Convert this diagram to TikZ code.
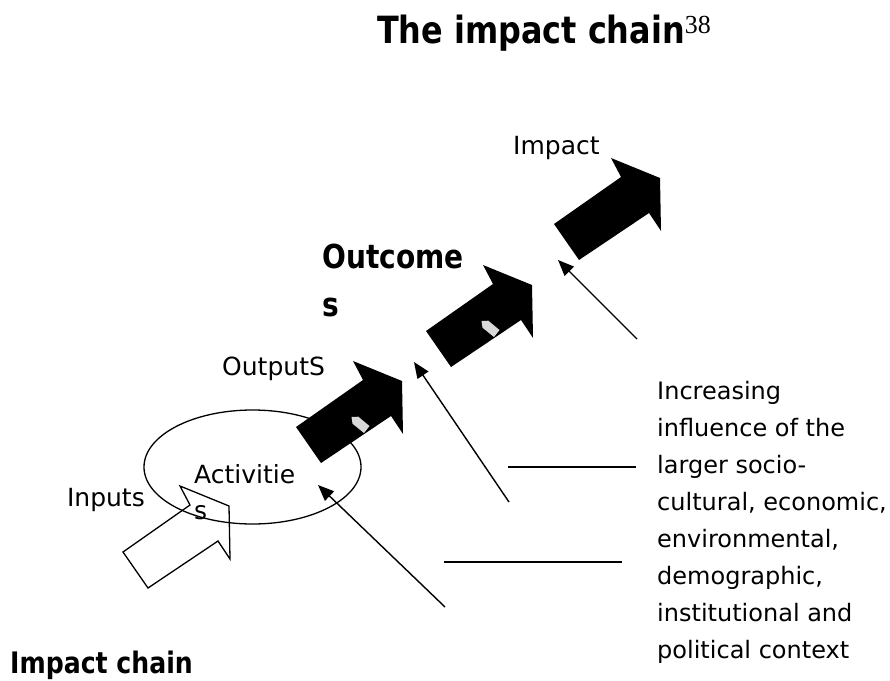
\documentclass[tikz,border=0pt]{standalone}
\usepackage{fontspec}
\setmainfont{DejaVu Sans}
\newfontfamily\headfont[FakeStretch=0.85]{DejaVu Sans}
\newfontfamily\notefont{Liberation Serif}
\usetikzlibrary{arrows.meta,positioning}
\tikzset{
plain/.style={
  font=\fontsize{25}{36}\selectfont,
  inner sep=0pt
  },
heavy/.style 2 args={
  font=\headfont\bfseries\fontsize{#1}{#2}\selectfont,
  inner sep=0pt
  },
push/.style={-{Triangle[length=16pt,width=13pt]},line width=1.4pt},
rule/.style={line width=1.4pt}
}
\tikzset{
  blockarrow/.pic={
    \path[pic actions] (0,0) -- (67,-47) -- (57,-66) -- (106,-46)
      -- (107,7) -- (95,-11) -- (25,36) -- cycle;
  },
  shine/.pic={
    \fill[gray!30] (-8.5,-7) -- (-1.7,-7.3) -- (9.5,2) -- (4,9)
      -- (-7.5,-0.3) -- cycle;
  }
}

\begin{document}
\begin{tikzpicture}[x=1pt,y=-1pt,line join=miter]
\useasboundingbox (0,0) rectangle (890,680);

\draw[line width=1.3pt] (252.5,467) ellipse [x radius=108.5pt, y radius=57pt];

\foreach \x/\y in {296/427, 426/331, 554/224}
  \pic[fill=black] at (\x,\y) {blockarrow};
\foreach \x/\y in {360/424, 490/328}
  \pic at (\x,\y) {shine};

\node[heavy={37.5}{45},anchor=base west] (title) at (377,43)
  {The impact chain\raisebox{10pt}{\notefont\mdseries\fontsize{26}{26}\selectfont 38}};
\node[plain,anchor=base west] (impact) at (513,154) {Impact};
\node[heavy={33}{48},align=left,anchor=base west] (outcomes) at (322,316) {Outcome\\s};
\node[plain,anchor=base west] (outputs) at (222,375) {OutputS};
\node[plain,align=left,anchor=base west] (activities) at (194,519) {Activitie\\s};
\node[plain,anchor=base east] (inputs) at (145,506) {Inputs};
\node[plain,font=\fontsize{24}{36.9}\selectfont,align=left,anchor=base west] (context) at (657,658)
{
  Increasing\\influence of the\\larger socio-\\cultural, economic,\\
  environmental,\\demographic,\\institutional and\\political context
};
\node[heavy={29.6}{36},anchor=base west] (caption) at (10,673) {Impact chain};

\pic[draw,line width=1.3pt] at (123,552) {blockarrow};

\coordinate (tailA) at (445,607);
\coordinate (tipA) at (318,485);
\coordinate (tailB) at (509,502);
\coordinate (tipB) at (414,362);
\coordinate (tailC) at (637,339);
\coordinate (tipC) at (558,260);
\draw[push] (tailA) -- (tipA);
\draw[push] (tailB) -- (tipB);
\draw[push] (tailC) -- (tipC);

\coordinate (ruleA) at (508,467);
\coordinate (ruleB) at (444,562);
\draw[rule] (ruleA) -- ++(128,0);
\draw[rule] (ruleB) -- ++(178,0);
\end{tikzpicture}
\end{document}
